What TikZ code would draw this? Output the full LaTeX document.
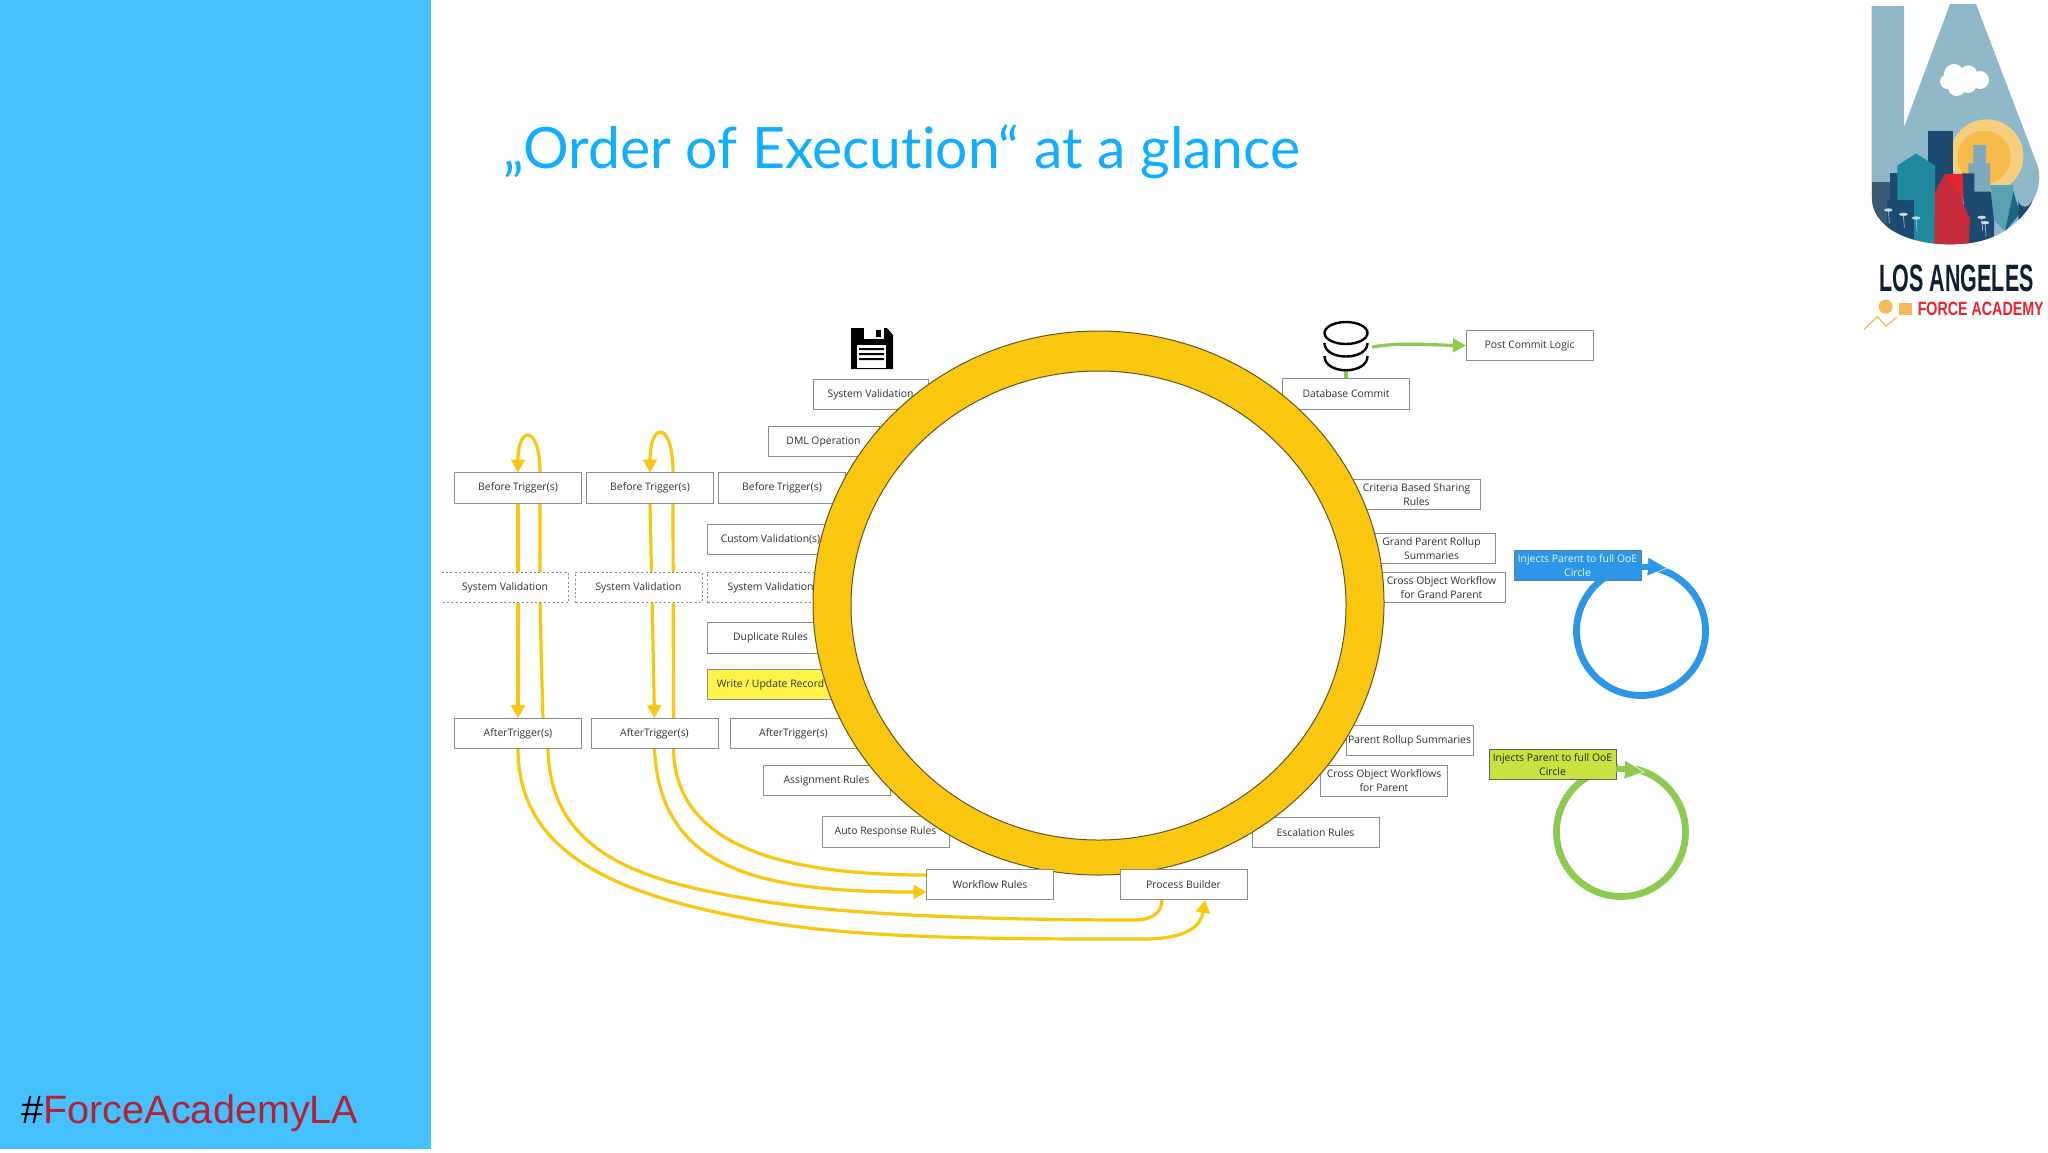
\documentclass[tikz,border=0pt]{standalone}
\usepackage{fontspec}
\usepackage{graphicx}
\setmainfont{Open Sans}
\newfontfamily\titlefont[Ligatures=NoCommon]{Lato}
\newfontfamily\hashfont{Liberation Sans}
\newfontfamily\logofont{Liberation Sans}
\usetikzlibrary{arrows.meta,calc}
\definecolor{panelblue}{RGB}{69,193,255}
\definecolor{titleblue}{RGB}{16,174,255}
\definecolor{ringy}{RGB}{249,199,15}
\definecolor{ringline}{RGB}{100,85,40}
\definecolor{boxline}{RGB}{140,140,140}
\definecolor{boxtext}{RGB}{50,50,50}
\definecolor{writey}{RGB}{255,243,74}
\definecolor{injblue}{RGB}{44,151,232}
\definecolor{injgreen}{RGB}{201,226,63}
\definecolor{circgreen}{RGB}{140,203,80}
\definecolor{hashred}{RGB}{178,34,52}
\definecolor{lasky}{RGB}{143,184,200}
\definecolor{lanavy}{RGB}{30,74,114}
\definecolor{lateal}{RGB}{31,138,158}
\definecolor{lared}{RGB}{198,43,60}
\definecolor{labright}{RGB}{234,34,48}
\definecolor{lasunA}{RGB}{245,207,127}
\definecolor{lasunB}{RGB}{245,186,74}
\definecolor{latxt}{RGB}{15,30,50}
\definecolor{laorange}{RGB}{245,186,90}
\pgfdeclarelayer{back}
\pgfdeclarelayer{conn}
\pgfdeclarelayer{front}
\pgfsetlayers{back,conn,main,front}
\tikzset{
  opbox/.style={draw=boxline,line width=.5pt,fill=white,minimum width=63.5pt,minimum height=15.3pt,
    inner sep=0pt,outer sep=0pt,align=center,text=boxtext,font=\fontsize{5.2}{7}\selectfont},
  dotbox/.style={opbox,draw=none},
  dotline/.style={draw=boxline,line width=.5pt,dash pattern=on 1pt off 1.2pt},
  yflow/.style={draw=ringy,line width=1.6pt},
  yarrow/.style={yflow,-{Triangle[length=6.5pt,width=6.8pt]}},
  garrow/.style={draw=circgreen,line width=1.6pt,-{Triangle[length=6.5pt,width=6.8pt]}},
  loopc/.style={line width=3.4pt},
}
\begin{document}
\begin{tikzpicture}[x=.5pt,y=-.5pt]
\useasboundingbox (0,0) rectangle (2048,1152);
\begin{pgfonlayer}{back}
\fill[white] (0,0) rectangle (2048,1152);
\fill[panelblue] (0,0) rectangle (431,1149);
\end{pgfonlayer}

% title and hashtag
\node[anchor=base west,inner sep=0pt,text=titleblue] (title) at (503,168)
  {\resizebox{398.5pt}{!}{\titlefont\fontsize{26}{30}\selectfont „Order of Execution“ at a glance}};
\node[anchor=base west,inner sep=0pt] (hash) at (21,1123)
  {\resizebox{168.5pt}{!}{\hashfont\fontsize{20}{24}\selectfont\textcolor{black}{\#}\textcolor{hashred}{ForceAcademyLA}}};

% boxes left of the ring
\node[opbox,minimum width=57.5pt] (sv) at (870.5,394.5) {System Validation};
\node[opbox,minimum width=55.5pt] (dml) at (823.5,441.5) {DML Operation};
\node[opbox] (bta)  at (518,488) {Before Trigger(s)};
\node[opbox] (btb)  at (650,488) {Before Trigger(s)};
\node[opbox] (btc)  at (782,488) {Before Trigger(s)};
\node[opbox] (cv)   at (770.5,539.5) {Custom Validation(s)};
\node[dotbox] (sva) at (505,587.5) {System Validation};
\node[dotbox] (svb) at (638.5,587.5) {System Validation};
\node[dotbox] (svc) at (770.5,587.5) {System Validation};
\node[opbox] (dup)  at (770.5,638) {Duplicate Rules};
\node[opbox,fill=writey] (wr) at (770.5,684.5) {Write / Update Record};
\node[opbox] (ata)  at (518,733.5) {AfterTrigger(s)};
\node[opbox] (atb)  at (654.5,733.5) {AfterTrigger(s)};
\node[opbox] (atc)  at (793.5,733.5) {AfterTrigger(s)};
\node[opbox] (asg)  at (826.5,780.5) {Assignment Rules};
\node[opbox] (aut)  at (885.5,832) {Auto Response Rules};
% dotted outlines
\draw[dotline] (sva.north west) -- (sva.north east) -- (sva.south east) -- (sva.south west);
\draw[dotline] (svb.south west) rectangle (svb.north east);
\draw[dotline] (svc.south west) rectangle (svc.north east);

% boxes right of the ring
\node[opbox] (db)   at (1346,394) {Database Commit};
\node[opbox] (post) at (1529.5,345.5) {Post Commit Logic};
\node[opbox] (crit) at (1416.5,494.5) {Criteria Based Sharing\\Rules};
\node[opbox] (gprs) at (1431.5,548.5) {Grand Parent Rollup\\Summaries};
\node[opbox] (cogp) at (1441.5,587.5) {Cross Object Workflow\\for Grand Parent};
\node[opbox] (prs)  at (1409.5,740.5) {Parent Rollup Summaries};
\node[opbox] (cop)  at (1384,781) {Cross Object Workflows\\for Parent};
\node[opbox] (esc)  at (1315.5,832.5) {Escalation Rules};

% ring and the boxes above it
\begin{pgfonlayer}{front}
\path[fill=ringy,draw=ringline,line width=.5pt,even odd rule]
  (1098.5,603) ellipse [x radius=285.5,y radius=272]
  (1098.5,605.5) ellipse [x radius=247.5,y radius=234.5];
\node[opbox] (wf) at (990,884.5) {Workflow Rules};
\node[opbox] (pb) at (1183.5,884.5) {Process Builder};
\end{pgfonlayer}

% icons
\fill[black] (851,328) -- (887,328) -- (893,335) -- (893,369) -- (851,369) -- cycle;
\fill[white] (864,328) rectangle (884,339);
\fill[black] (876,330) rectangle (881,337);
\fill[white] (857,345) rectangle (886,368);
\fill[black] (859,348) rectangle (884,350) (859,353) rectangle (884,355) (859,358) rectangle (884,360);
\draw[black,line width=1.2pt] (1346,333) ellipse [x radius=21.5,y radius=11];
\draw[black,line width=1.2pt] (1324.5,343) .. controls (1324.5,361) and (1367.5,361) .. (1367.5,343);
\draw[black,line width=1.2pt] (1324.5,356) .. controls (1324.5,375) and (1367.5,375) .. (1367.5,356);
\coordinate (dbt) at (1346,371);
\coordinate (dbr) at (1372,347);

% connectors
\begin{pgfonlayer}{conn}
\coordinate (ua) at ($(bta.north)+(22,0)$);
\coordinate (ub) at ($(btb.north)+(23,0)$);
\draw[yarrow] (ua) .. controls ($(ua)+(0,-48)$) and ($(bta.north)+(0,-48)$) .. (bta.north);
\draw[yarrow] (ub) .. controls ($(ub)+(0,-52)$) and ($(btb.north)+(0,-52)$) .. (btb.north);
\draw[yarrow] (bta.south) -- (ata.north);
\draw[yarrow] (btb.south) -- (atb.north);
\draw[yflow] ($(bta.south)+(22,0)$) .. controls ($(bta.south)+(22,100)$) and ($(ata.north)+(22,-100)$) .. ($(ata.north)+(25,0)$);
\draw[yflow] ($(btb.south)+(23,0)$) -- ($(atb.north)+(19,0)$);
\draw[yarrow] (ata.south) .. controls (518,860) and (630,897) .. (755,920)
   .. controls (855,939) and (1000,939) .. (1135,939)
   .. controls (1180,940) and (1200,930) .. (pb.south -| 1205,0);
\draw[yflow] ($(ata.south)+(30,0)$) .. controls (550,860) and (655,883) .. (755,900)
   .. controls (845,915.5) and (1000,920) .. (1135,920)
   .. controls (1150,920) and (1162,914) .. (pb.south -| 1162,0);
\draw[yarrow] (atb.south) .. controls (660,870) and (760,892) .. (wf.west |- 0,892);
\draw[yflow] ($(atb.south)+(19,0)$) .. controls (675,845) and (780,875) .. (wf.west |- 0,875);
\draw[garrow] (dbr) .. controls (1400,342) and (1430,345) .. (post.west);
\draw[draw=circgreen,line width=1.6pt] (dbt) -- (db.north);
\end{pgfonlayer}

% injection loops
\draw[injblue,loopc] (1641,631) circle [radius=64.5];
\fill[white] (1641,560) rectangle (1655,572);
\node[opbox,fill=injblue,draw=lanavy!70,text=white!90!injblue] (ib) at (1577.5,565.5) {Injects Parent to full OoE\\Circle};
\coordinate (ibt) at (1667,568);
\path[fill=injblue,draw=white,line width=.3pt] (ibt) -- (1648,557) -- (1647,576) -- cycle;
\draw[injblue,line width=3pt] (ib.east |- 0,567) -- (1648,567);

\draw[circgreen,loopc] (1621,832) circle [radius=64.5];
\fill[white] (1618,762) rectangle (1636,775);
\node[opbox,fill=injgreen,draw=boxline!70!black,text=boxtext!70!black] (ig) at (1552.5,764.5) {Injects Parent to full OoE\\Circle};
\coordinate (igt) at (1644,772);
\path[fill=circgreen,draw=white,line width=.3pt] (igt) -- (1625,760) -- (1624,779) -- cycle;
\draw[circgreen,line width=3pt] (ig.east |- 0,769) -- (1625,769);

% logo
\begin{scope}[shift={(1840,0)},x=.16667pt,y=-.16667pt]
\begin{scope}
\clip (95,18) -- (192,18) -- (192,382) -- (330,12) -- (408,12) -- (590,490)
  .. controls (610,540) and (590,600) .. (545,650)
  .. controls (480,720) and (400,733) .. (330,733)
  .. controls (200,733) and (95,680) .. (95,590) -- cycle;
\fill[lasky] (0,0) rectangle (650,750);
\fill[lasunA] (440,468) circle [radius=110];
\fill[lasunB] (432,472) circle [radius=80];
\fill[lanavy!70!gray] (95,545) rectangle (152,750);
\fill[lanavy] (263,392) rectangle (340,600);
\fill[lanavy] (150,520) rectangle (180,640);
\fill[lanavy] (140,600) rectangle (225,750);
\fill[lateal] (172,497) -- (228,460) -- (285,497) -- (285,750) -- (222,750) -- (222,600) -- (172,600) -- cycle;
\fill[lasky!85!lanavy] (400,435) -- (438,435) -- (438,490) -- (450,490) -- (450,580) -- (385,580) -- (385,490) -- (400,490) -- cycle;
\fill[lanavy] (365,520) -- (403,520) -- (403,575) -- (462,575) -- (462,750) -- (380,750) -- cycle;
\fill[lateal!50!lasky] (450,555) -- (520,555) -- (520,590) -- (495,695) -- (462,660) -- cycle;
\fill[lateal!40!lanavy] (520,575) -- (540,640) -- (495,695) -- cycle;
\fill[lanavy] (535,600) arc[start angle=180,end angle=0,radius=20] -- (575,660) -- (535,660) -- cycle;
\fill[lared] (285,575) -- (315,522) -- (368,522) -- (368,610) -- (390,655) -- (385,750) -- (283,750) -- cycle;
\fill[labright] (315,522) -- (368,522) -- (368,610) -- (355,575) -- cycle;
% palms
\foreach \px/\py in {145/630,190/643,228/654,425/652,435/668}{
  \draw[white!70!lanavy,line width=.3pt] (\px,\py) -- (\px+3,\py+40);
  \fill[white!70!lateal] (\px,\py) ellipse [x radius=13,y radius=5];
}
\end{scope}
\fill[white] (342,222) circle [radius=30] (385,222) circle [radius=26] (350,262) circle [radius=26]
  (420,240) circle [radius=27] (322,245) circle [radius=22] (385,255) circle [radius=24];
\node[anchor=base west,inner sep=0pt,text=latxt] (la) at (118,875)
  {\resizebox{77pt}{13.3pt}{\logofont\bfseries LOS ANGELES}};
\node[anchor=base west,inner sep=0pt,text=labright] (fa) at (232,945)
  {\resizebox{63pt}{6.7pt}{\logofont\bfseries FORCE ACADEMY}};
\fill[laorange] (137,920) circle [radius=21];
\fill[laorange] (178,910) rectangle (215,945);
\draw[laorange,line width=.6pt] (72,988) -- (112,950) -- (138,978) -- (170,952);
\end{scope}
\end{tikzpicture}
\end{document}
